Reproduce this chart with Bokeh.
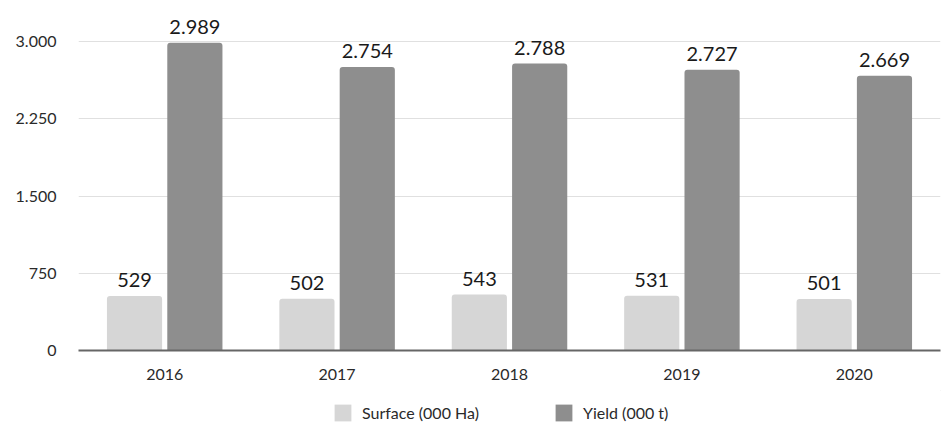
from bokeh.plotting import figure
from bokeh.layouts import column
from bokeh.models import ColumnDataSource, FactorRange, Range1d, FixedTicker, Legend, LegendItem
from bokeh.transform import dodge
from bokeh.core.properties import value
from bokeh.embed import file_html
from bokeh.resources import INLINE

years = ["2016", "2017", "2018", "2019", "2020"]
surface = [529, 502, 543, 531, 501]
yield_t = [2989, 2754, 2788, 2727, 2669]
y_ticks = [0, 750, 1500, 2250, 3000]
series_names = ["Surface (000 Ha)", "Yield (000 t)"]
colors = ["#d6d6d6", "#8e8e8e"]

def fmt(v):
    return f"{v:,}".replace(",", ".")

src = ColumnDataSource(dict(
    year=years, surface=surface, yld=yield_t,
    surface_lbl=[fmt(v) for v in surface],
    yld_lbl=[fmt(v) for v in yield_t],
))

FONT = "Lato"
OFF = 0.175

p = figure(width=942, height=390, output_backend="svg", toolbar_location=None,
           x_range=FactorRange(factors=years), y_range=Range1d(0, 3400),
           min_border_left=78, min_border_right=2, min_border_top=0, min_border_bottom=40)

p.outline_line_color = None
p.background_fill_color = "white"
p.border_fill_color = "white"

p.vbar(x=dodge("year", -OFF, range=p.x_range), top="surface", width=0.32, source=src,
       fill_color=colors[0], line_color=None, border_radius=(3, 3, 0, 0))
p.vbar(x=dodge("year", OFF, range=p.x_range), top="yld", width=0.32, source=src,
       fill_color=colors[1], line_color=None, border_radius=(3, 3, 0, 0))

p.text(x=dodge("year", -OFF, range=p.x_range), y="surface", text="surface_lbl", source=src,
       text_align="center", text_baseline="bottom", y_offset=-9,
       text_font=value(FONT), text_font_size="20px", text_color="#1a1a1a")
p.text(x=dodge("year", OFF, range=p.x_range), y="yld", text="yld_lbl", source=src,
       text_align="center", text_baseline="bottom", y_offset=-9,
       text_font=value(FONT), text_font_size="20px", text_color="#1a1a1a")

p.yaxis.ticker = FixedTicker(ticks=y_ticks)
p.yaxis.major_label_overrides = {t: fmt(t) for t in y_ticks}
p.yaxis.axis_line_color = None
p.yaxis.major_tick_line_color = None
p.yaxis.minor_tick_line_color = None
p.yaxis.major_label_standoff = 16
p.yaxis.major_label_text_font = FONT
p.yaxis.major_label_text_font_size = "16px"
p.yaxis.major_label_text_color = "#2a2a2a"

p.xaxis.axis_line_color = "#666666"
p.xaxis.axis_line_width = 2
p.xaxis.major_tick_line_color = None
p.xaxis.minor_tick_line_color = None
p.xaxis.major_label_standoff = 12
p.xaxis.major_label_text_font = FONT
p.xaxis.major_label_text_font_size = "16px"
p.xaxis.major_label_text_color = "#2a2a2a"

p.xgrid.grid_line_color = None
p.ygrid.grid_line_color = "#e0e0e0"
p.ygrid.grid_line_width = 1

# legend strip below the chart
lg = figure(width=942, height=34, output_backend="svg", toolbar_location=None,
            x_range=Range1d(0, 1), y_range=Range1d(0, 1),
            min_border_left=0, min_border_right=0, min_border_top=0, min_border_bottom=0)
lg.axis.visible = False
lg.grid.visible = False
lg.outline_line_color = None
lg.border_fill_color = "white"
lg.background_fill_color = "white"

legend_x = [254, 475]
for name, col, lx in zip(series_names, colors, legend_x):
    r = lg.vbar(x=[5], top=[5], bottom=[4], width=0.1, fill_color=col, line_color=None)
    leg = Legend(items=[LegendItem(label=name, renderers=[r])],
                 location=(lx, 1), orientation="horizontal",
                 label_text_font=FONT, label_text_font_size="16px", label_text_color="#2a2a2a",
                 glyph_width=21, glyph_height=21, label_standoff=9, label_height=21,
                 border_line_color=None, background_fill_alpha=0, margin=0, padding=0)
    lg.add_layout(leg)

layout = column(p, lg, spacing=0)
open("out.html", "w").write(file_html(layout, INLINE))
